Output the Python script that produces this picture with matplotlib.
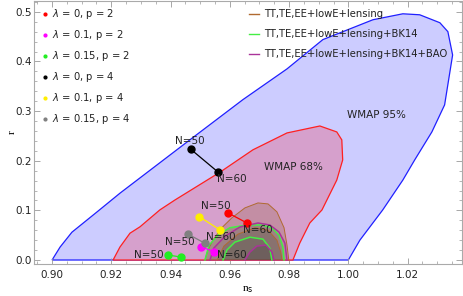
# plot.py - WMAP / Planck contours with model predictions in the (n_s, r) plane

import matplotlib
matplotlib.use('Agg')
import matplotlib.pyplot as plt
from matplotlib.ticker import MultipleLocator, FormatStrFormatter

# WMAP 95% / 68% regions (n_s, r)
wmap95_ns = [0.900, 0.9027, 0.9067, 0.9152, 0.923, 0.9364, 0.9465, 0.9644, 0.9793, 0.9914,
             1.0083, 1.0184, 1.0241, 1.0309, 1.0336, 1.0352, 1.0325, 1.0282, 1.0224, 1.0184,
             1.0116, 1.0039, 1.000]
wmap95_r = [0.0, 0.026, 0.056, 0.097, 0.135, 0.196, 0.242, 0.323, 0.385, 0.444,
            0.484, 0.496, 0.494, 0.478, 0.460, 0.413, 0.3125, 0.258, 0.2016, 0.161,
            0.1008, 0.040, 0.0]
wmap68_ns = [0.9206, 0.9229, 0.9263, 0.9297, 0.9364, 0.9415, 0.9567, 0.9678, 0.9793, 0.9904,
             0.9961, 0.9978, 0.9981, 0.9961, 0.9911, 0.9870, 0.9836, 0.9813]
wmap68_r = [0.0, 0.026, 0.054, 0.067, 0.101, 0.121, 0.177, 0.222, 0.256, 0.270,
            0.258, 0.242, 0.2016, 0.161, 0.1008, 0.0746, 0.034, 0.0]

# Planck contours
tt_out_ns = [0.9516, 0.9526, 0.9543, 0.9573, 0.9607, 0.9651, 0.9695, 0.9729, 0.9759, 0.9783, 0.9793, 0.9799]
tt_out_r = [0.0, 0.020, 0.040, 0.065, 0.085, 0.105, 0.115, 0.113, 0.097, 0.065, 0.030, 0.0]
tt_in_ns = [0.9557, 0.9580, 0.9627, 0.9685, 0.9729, 0.9759, 0.9772, 0.9776]
tt_in_r = [0.0, 0.028, 0.052, 0.065, 0.060, 0.040, 0.016, 0.0]
bk_out_ns = [0.9516, 0.9530, 0.9560, 0.9600, 0.9658, 0.9708, 0.9742, 0.9766, 0.9779, 0.9783]
bk_out_r = [0.0, 0.030, 0.050, 0.065, 0.0706, 0.0706, 0.065, 0.050, 0.026, 0.0]
bk_in_ns = [0.9577, 0.9590, 0.9617, 0.9668, 0.9712, 0.9735, 0.9742]
bk_in_r = [0.0, 0.020, 0.036, 0.046, 0.042, 0.024, 0.0]
bao_out_ns = [0.9533, 0.9546, 0.9584, 0.9634, 0.9695, 0.9735, 0.9766, 0.9786, 0.9793]
bao_out_r = [0.0, 0.024, 0.048, 0.0665, 0.0746, 0.0706, 0.0565, 0.034, 0.0]
bao_in_ns = [0.9651, 0.9668, 0.9691, 0.9722, 0.9742, 0.9749]
bao_in_r = [0.0, 0.016, 0.028, 0.030, 0.016, 0.0]

# model predictions: (N=50, N=60)
models = ['$\\lambda$ = 0, p = 2', '$\\lambda$ = 0.1, p = 2', '$\\lambda$ = 0.15, p = 2',
          '$\\lambda$ = 0, p = 4', '$\\lambda$ = 0.1, p = 4', '$\\lambda$ = 0.15, p = 4']
model_colors = ['red', 'magenta', '#22ee22', 'black', '#ffee00', 'gray']
ns_pts = [[0.9594, 0.9658], [0.9502, 0.9547], [0.9392, 0.9434],
          [0.9468, 0.9561], [0.9497, 0.9567], [0.9460, 0.9516]]
r_pts = [[0.0948, 0.0746], [0.0268, 0.0167], [0.0101, 0.0060],
         [0.2232, 0.1768], [0.0873, 0.0605], [0.0518, 0.0337]]

# N labels: text, n_s, r
n_labels = ['N=50', 'N=60', 'N=50', 'N=60', 'N=60', 'N=50', 'N=60', 'N=50']
n_label_ns = [0.9464, 0.9607, 0.9553, 0.9695, 0.9570, 0.9432, 0.9607, 0.9327]
n_label_r = [0.239, 0.163, 0.109, 0.0605, 0.046, 0.036, 0.010, 0.010]

planck_names = ['TT,TE,EE+lowE+lensing', 'TT,TE,EE+lowE+lensing+BK14',
                'TT,TE,EE+lowE+lensing+BK14+BAO']
planck_colors = ['#b06a30', '#44ee44', '#aa3399']

fig = plt.figure(figsize=(4.63, 2.96), dpi=100)
ax = fig.add_axes([0.0734, 0.108, 0.924, 0.889])

# WMAP regions
ax.fill(wmap95_ns, wmap95_r, facecolor='#ccccff', edgecolor='#2020ff', lw=0.9, zorder=1)
ax.fill(wmap68_ns, wmap68_r, facecolor='#d6a0cc', edgecolor='#ff2020', lw=0.9, zorder=2)

# Planck regions
ax.fill(tt_out_ns, tt_out_r, facecolor='#9c6a50', alpha=0.32, edgecolor='none', zorder=3)
ax.plot(tt_out_ns, tt_out_r, color=planck_colors[0], lw=0.7, zorder=3)
ax.fill(bk_out_ns, bk_out_r, facecolor='#608040', alpha=0.28, edgecolor='none', zorder=3)
ax.fill(bao_out_ns, bao_out_r, facecolor='#705070', alpha=0.15, edgecolor='none', zorder=3)
ax.fill(tt_in_ns, tt_in_r, facecolor='#5a5040', alpha=0.3, edgecolor='none', zorder=3)
ax.plot(tt_in_ns, tt_in_r, color=planck_colors[0], lw=0.7, zorder=3)
ax.fill(bk_in_ns, bk_in_r, facecolor='#405040', alpha=0.2, edgecolor='none', zorder=3)
ax.fill(bao_in_ns, bao_in_r, facecolor='#403040', alpha=0.2, edgecolor='none', zorder=3)
ax.plot(bk_out_ns, bk_out_r, color=planck_colors[1], lw=1.1, zorder=4)
ax.plot(bk_in_ns, bk_in_r, color=planck_colors[1], lw=1.1, zorder=4)
ax.plot(bao_out_ns, bao_out_r, color=planck_colors[2], lw=1.1, zorder=4)
ax.plot(bao_in_ns, bao_in_r, color=planck_colors[2], lw=1.1, zorder=4)

# model points
for i in range(len(models)):
    ax.plot(ns_pts[i], r_pts[i], color=model_colors[i], lw=0.9, marker='o', ms=5, zorder=6)

for i in range(len(n_labels)):
    ax.text(n_label_ns[i], n_label_r[i], n_labels[i], fontsize=7.5, ha='center', va='center',
            color='#222222', zorder=7)

ax.text(1.0096, 0.292, 'WMAP 95%', fontsize=7.5, ha='center', va='center', color='#222222')
ax.text(0.9816, 0.1875, 'WMAP 68%', fontsize=7.5, ha='center', va='center', color='#222222')

# legends (drawn by hand as in the original)
for i in range(len(models)):
    y = 0.95 - i * 0.0795
    ax.plot(0.026, y, 'o', ms=2, color=model_colors[i], transform=ax.transAxes, zorder=8)
    ax.text(0.041, y, models[i], fontsize=7.2, va='center', transform=ax.transAxes, color='#222222')

for i in range(len(planck_names)):
    y = 0.951 - i * 0.076
    ax.plot([0.502, 0.525], [y, y], color=planck_colors[i], lw=1.0, transform=ax.transAxes, zorder=8)
    ax.text(0.538, y, planck_names[i], fontsize=7.2, va='center', transform=ax.transAxes,
            color='#222222')

ax.set_xlim(0.8939, 1.0383)
ax.set_ylim(-0.0081, 0.522)

ax.xaxis.set_major_locator(MultipleLocator(0.02))
ax.xaxis.set_minor_locator(MultipleLocator(0.005))
ax.yaxis.set_major_locator(MultipleLocator(0.1))
ax.yaxis.set_minor_locator(MultipleLocator(0.02))
ax.xaxis.set_major_formatter(FormatStrFormatter('%.2f'))
ax.yaxis.set_major_formatter(FormatStrFormatter('%.1f'))

ax.tick_params(which='both', direction='in', top=True, right=True, color='#999999',
               labelsize=7.5, labelcolor='#222222')
ax.tick_params(which='major', length=4, width=0.6)
ax.tick_params(which='minor', length=2, width=0.5)
ax.tick_params(axis='y', pad=1.5)
ax.tick_params(axis='x', pad=4)
for s in ax.spines.values():
    s.set_color('#aaaaaa')
    s.set_linewidth(0.8)

ax.set_xlabel('n$_\\mathrm{s}$', fontsize=8, family='Liberation Serif', labelpad=3)
ax.set_ylabel('r', fontsize=8, family='Liberation Serif')
ax.yaxis.set_label_coords(-0.04, 0.5)

fig.savefig('out.png', dpi=100)
